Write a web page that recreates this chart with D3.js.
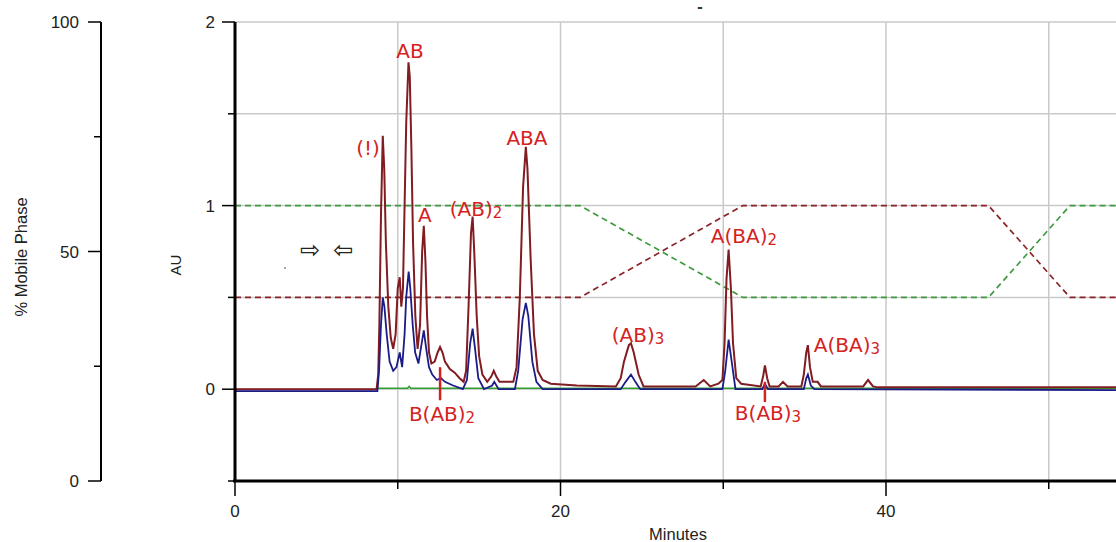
<!DOCTYPE html>
<html><head><meta charset="utf-8">
<script src="https://cdn.jsdelivr.net/npm/d3@7"></script>
<style>body{margin:0;background:#fff;} svg{display:block;}</style>
</head><body><svg id="c" width="1116" height="542"></svg>
<script>
// ---------- data ----------
const xTickValues = [0, 10, 20, 30, 40, 50];
const xTickLabels = ["0", "", "20", "", "40", ""];
const auTickValues = [-0.5, 0, 0.5, 1, 1.5, 2];
const auTickLabels = ["", "0", "", "1", "", "2"];
const pctTickValues = [0, 25, 50, 75, 100];
const pctTickLabels = ["0", "", "50", "", "100"];

// mobile phase gradient (% of each solvent)
const gradientTime = [0, 21.2, 31.2, 46.3, 51.3, 56];
const solventGreen = [60, 60, 40, 40, 60, 60];
const solventRed = [40, 40, 60, 60, 40, 40];

// detector traces [minutes, AU]
const redTrace = [[0,0],[8.7,0],[8.8,0.08],[8.87,0.35],[8.97,0.95],[9.08,1.38],[9.17,1.2],[9.27,0.8],[9.42,0.45],[9.57,0.28],[9.72,0.22],[9.87,0.3],[10.0,0.55],[10.12,0.61],[10.22,0.45],[10.32,0.55],[10.42,1.0],[10.52,1.45],[10.66,1.78],[10.74,1.7],[10.84,1.3],[10.94,0.8],[11.08,0.4],[11.22,0.22],[11.37,0.35],[11.5,0.75],[11.6,0.89],[11.7,0.7],[11.8,0.4],[11.92,0.2],[12.07,0.14],[12.27,0.15],[12.45,0.2],[12.6,0.23],[12.75,0.2],[12.9,0.15],[13.2,0.11],[13.5,0.09],[13.8,0.06],[14.05,0.04],[14.2,0.1],[14.35,0.45],[14.5,0.85],[14.6,0.94],[14.7,0.75],[14.85,0.4],[15.0,0.18],[15.2,0.08],[15.5,0.04],[15.75,0.07],[15.9,0.1],[16.05,0.07],[16.25,0.04],[17.1,0.04],[17.3,0.12],[17.5,0.5],[17.7,1.1],[17.87,1.32],[17.97,1.2],[18.17,0.7],[18.37,0.3],[18.6,0.1],[18.9,0.05],[19.4,0.03],[21,0.02],[23.4,0.015],[23.7,0.06],[23.9,0.15],[24.2,0.24],[24.33,0.25],[24.5,0.2],[24.8,0.08],[25.1,0.015],[28.3,0.015],[28.8,0.05],[29.2,0.015],[29.7,0.03],[29.95,0.05],[30.08,0.25],[30.2,0.6],[30.33,0.76],[30.47,0.55],[30.6,0.25],[30.8,0.06],[31.1,0.03],[32.3,0.015],[32.45,0.07],[32.56,0.13],[32.7,0.06],[32.85,0.015],[33.4,0.015],[33.67,0.04],[33.95,0.015],[34.8,0.015],[34.95,0.08],[35.1,0.2],[35.2,0.24],[35.33,0.12],[35.5,0.04],[35.8,0.04],[36.0,0.015],[37.5,0.015],[38.6,0.015],[38.9,0.05],[39.2,0.015],[39.5,0.01],[56,0.01]];
const blueTrace = [[0,-0.01],[8.75,-0.01],[8.85,0.1],[8.97,0.35],[9.08,0.5],[9.18,0.45],[9.32,0.3],[9.5,0.15],[9.72,0.1],[9.92,0.12],[10.12,0.2],[10.27,0.12],[10.42,0.3],[10.52,0.5],[10.67,0.64],[10.77,0.55],[10.92,0.35],[11.07,0.2],[11.27,0.14],[11.47,0.25],[11.6,0.32],[11.75,0.22],[11.92,0.12],[12.12,0.08],[12.4,0.05],[12.65,0.06],[12.9,0.04],[13.4,0.02],[14.0,0.0],[14.25,0.05],[14.45,0.25],[14.6,0.33],[14.75,0.22],[14.95,0.06],[15.3,0.0],[15.8,0.02],[15.93,0.04],[16.2,0.0],[17.2,0.0],[17.4,0.1],[17.67,0.38],[17.87,0.47],[18.02,0.4],[18.27,0.15],[18.52,0.04],[18.9,0.0],[23.7,0.0],[24.0,0.04],[24.33,0.08],[24.6,0.04],[24.9,0.0],[29.95,0.0],[30.12,0.1],[30.33,0.27],[30.52,0.15],[30.75,0.0],[32.4,0.0],[32.56,0.03],[32.75,0.0],[34.95,0.0],[35.1,0.06],[35.2,0.08],[35.38,0.02],[35.6,0.0],[56,-0.005]];
const greenTrace = [[8.75,0.005],[10.6,0.005],[10.7,0.015],[10.8,0.005],[56,0.005]];

// peak annotations [name, subscript, minutes, AU]
const peakLabels = [["AB","",10.75,1.803],["(!)","",8.17,1.275],["A","",11.67,0.91],["(AB)","2",14.81,0.942],["ABA","",17.94,1.329],["B(AB)","2",12.72,-0.174],["(AB)","3",24.76,0.256],["A(BA)","2",31.27,0.795],["B(AB)","3",32.75,-0.169],["A(BA)","3",37.6,0.2]];
// marker ticks [minutes, AU from, AU to]
const peakMarkers = [[12.6,0.12,-0.06],[32.56,0.04,-0.07]];

// ---------- drawing ----------
const svg = d3.select("#c");
svg.append("rect").attr("width",1116).attr("height",542).attr("fill","#fff");

const x = d3.scaleLinear().domain([0,40]).range([235,886]);
const y = d3.scaleLinear().domain([-0.5,2]).range([481,22]);
const yp = d3.scaleLinear().domain([0,100]).range([481,22]);

svg.append("clipPath").attr("id","clip").append("rect")
  .attr("x",235).attr("y",20).attr("width",900).attr("height",462);

const plot = svg.append("g").attr("clip-path","url(#clip)");

// grid
plot.selectAll("line.vg").data(xTickValues.filter(d=>d>0)).join("line")
  .attr("x1",d=>x(d)).attr("x2",d=>x(d)).attr("y1",y(2)).attr("y2",y(-0.5))
  .attr("stroke","#c9c9c9").attr("stroke-width",1.5);
plot.selectAll("line.hg").data(auTickValues.filter(d=>d>-0.5)).join("line")
  .attr("x1",235).attr("x2",1116).attr("y1",d=>y(d)).attr("y2",d=>y(d))
  .attr("stroke","#c9c9c9").attr("stroke-width",1.5);

// gradient lines
const gl = d3.line().x(d=>x(d[0])).y(d=>yp(d[1]));
plot.append("path").datum(gradientTime.map((t,i)=>[t,solventGreen[i]]))
  .attr("d",gl).attr("fill","none").attr("stroke","#3f9a3f").attr("stroke-width",1.7).attr("stroke-dasharray","6,4");
plot.append("path").datum(gradientTime.map((t,i)=>[t,solventRed[i]]))
  .attr("d",gl).attr("fill","none").attr("stroke","#8a2228").attr("stroke-width",1.7).attr("stroke-dasharray","6,4");

// traces
const tl = d3.line().x(d=>x(d[0])).y(d=>y(d[1]));
plot.append("path").datum(greenTrace).attr("d",tl).attr("fill","none").attr("stroke","#2f9f2f").attr("stroke-width",1.6);
plot.append("path").datum(redTrace).attr("d",tl).attr("fill","none").attr("stroke","#801c22").attr("stroke-width",2);
plot.append("path").datum(blueTrace).attr("d",tl).attr("fill","none").attr("stroke","#1c1c88").attr("stroke-width",1.8);

// axes
const axisFont = "'Liberation Sans', Arial, sans-serif";
// % mobile phase axis
const ga = svg.append("g").attr("transform","translate(101,0)");
ga.append("line").attr("x1",0).attr("x2",0).attr("y1",yp(100)).attr("y2",yp(0)).attr("stroke","#000").attr("stroke-width",2);
ga.selectAll("line.t").data(pctTickValues).join("line")
  .attr("x1",(d,i)=>pctTickLabels[i]?-13:-7).attr("x2",0).attr("y1",d=>yp(d)).attr("y2",d=>yp(d))
  .attr("stroke","#000").attr("stroke-width",1.5);
ga.selectAll("text").data(pctTickValues).join("text")
  .attr("x",-22).attr("y",d=>yp(d)+6).attr("text-anchor","end")
  .attr("font-family",axisFont).attr("font-size",17).attr("fill","#222")
  .text((d,i)=>pctTickLabels[i]);
svg.append("text").attr("transform","translate(27,257) rotate(-90)").attr("text-anchor","middle")
  .attr("font-family",axisFont).attr("font-size",16.5).attr("fill","#222").text("% Mobile Phase");

// AU axis
const gy = svg.append("g").attr("transform","translate(235,0)");
gy.append("line").attr("x1",0).attr("x2",0).attr("y1",y(2)).attr("y2",y(-0.5)).attr("stroke","#000").attr("stroke-width",3);
gy.selectAll("line.t").data(auTickValues).join("line")
  .attr("x1",(d,i)=>auTickLabels[i]?-13:-7).attr("x2",0).attr("y1",d=>y(d)).attr("y2",d=>y(d))
  .attr("stroke","#000").attr("stroke-width",1.5);
gy.selectAll("text").data(auTickValues).join("text")
  .attr("x",-20).attr("y",d=>y(d)+6).attr("text-anchor","end")
  .attr("font-family",axisFont).attr("font-size",17).attr("fill","#222")
  .text((d,i)=>auTickLabels[i]);
svg.append("text").attr("transform","translate(181,265) rotate(-90)").attr("text-anchor","middle")
  .attr("font-family",axisFont).attr("font-size",15).attr("fill","#222").text("AU");

// time axis
const gx = svg.append("g").attr("transform","translate(0,481)");
gx.append("line").attr("x1",233).attr("x2",1116).attr("y1",0).attr("y2",0).attr("stroke","#000").attr("stroke-width",3);
gx.selectAll("line.t").data(xTickValues).join("line")
  .attr("x1",d=>x(d)).attr("x2",d=>x(d)).attr("y1",0).attr("y2",(d,i)=>xTickLabels[i]?15:8)
  .attr("stroke","#000").attr("stroke-width",1.5);
gx.selectAll("text").data(xTickValues).join("text")
  .attr("x",d=>x(d)).attr("y",36).attr("text-anchor","middle")
  .attr("font-family","'Liberation Sans Narrow', 'Liberation Sans', sans-serif").attr("font-size",17).attr("fill","#222")
  .text((d,i)=>xTickLabels[i]);
svg.append("text").attr("x",678).attr("y",540).attr("text-anchor","middle")
  .attr("font-family","'Liberation Sans Narrow', 'Liberation Sans', sans-serif").attr("font-size",16.5).attr("fill","#222").text("Minutes");

// peak markers and labels
svg.selectAll("line.pm").data(peakMarkers).join("line")
  .attr("x1",d=>x(d[0])).attr("x2",d=>x(d[0])).attr("y1",d=>y(d[1])).attr("y2",d=>y(d[2]))
  .attr("stroke","#d42222").attr("stroke-width",2.5);
const pl = svg.selectAll("text.pl").data(peakLabels).join("text").attr("class","pl")
  .attr("x",d=>x(d[2])).attr("y",d=>y(d[3])).attr("text-anchor","middle")
  .attr("font-family","'DejaVu Sans', sans-serif").attr("font-size",20).attr("fill","#d42222");
pl.append("tspan").text(d=>d[0]);
pl.filter(d=>d[1]).append("tspan").attr("font-size",15).attr("dy",2).text(d=>d[1]);

// injection arrows and small marks
svg.append("text").attr("x",310).attr("y",258).attr("text-anchor","middle")
  .attr("font-family","'DejaVu Sans', sans-serif").attr("font-size",24).attr("fill","#222").text("\u21E8");
svg.append("text").attr("x",343).attr("y",258).attr("text-anchor","middle")
  .attr("font-family","'DejaVu Sans', sans-serif").attr("font-size",24).attr("fill","#222").text("\u21E6");
svg.append("circle").attr("cx",285).attr("cy",268).attr("r",1).attr("fill","#888");
svg.append("text").attr("x",700).attr("y",12).attr("text-anchor","middle")
  .attr("font-family","'DejaVu Sans', sans-serif").attr("font-size",14).attr("font-weight","bold").attr("fill","#333").text("-");
</script></body></html>
